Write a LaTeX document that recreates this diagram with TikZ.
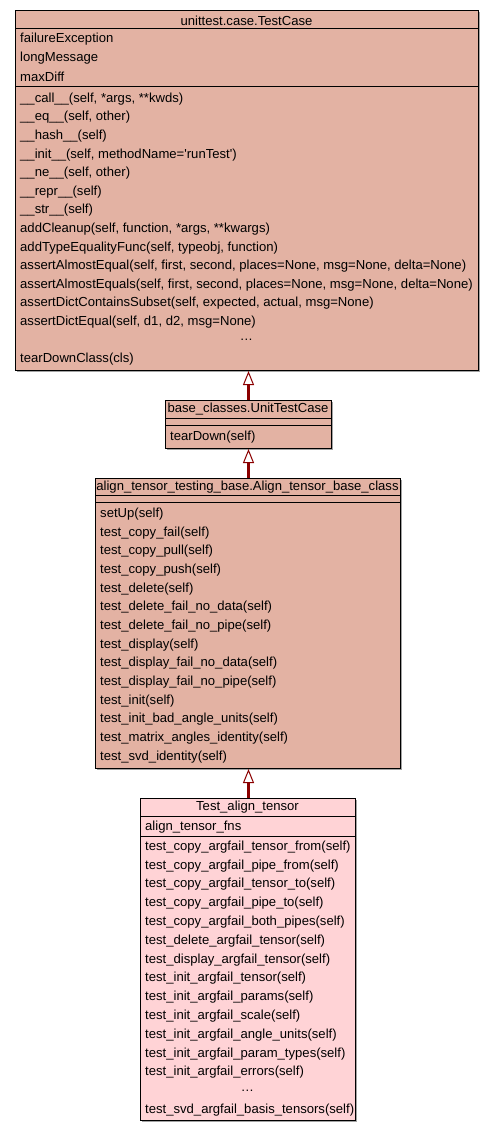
\documentclass[tikz,border=0pt]{standalone}
\usepackage{fontspec}
\setmainfont{Liberation Sans}
\usetikzlibrary{arrows.meta,positioning,calc,shadows}
\definecolor{basefill}{RGB}{227,178,163}
\definecolor{leaffill}{RGB}{255,211,214}
\definecolor{arrowred}{RGB}{139,0,0}

\begin{document}
\begin{tikzpicture}[x=1pt, y=-1pt,
    classbox/.style={draw=black, line width=1pt, fill=basefill, anchor=north west, inner sep=0pt,
        drop shadow={shadow xshift=1.5pt, shadow yshift=-1.5pt, fill=black!45, opacity=0.8}},
    member/.style={anchor=west, inner sep=0pt, yshift=-1pt, font=\fontsize{13.1}{15}\selectfont},
    title/.style={member, anchor=center},
    sep/.style={line width=1pt},
    inherit/.style={draw=arrowred, line width=2.4pt,
        -{Triangle[open, fill=white, line width=1pt, length=14pt, width=11pt]}}
]
\useasboundingbox (0,0) rectangle (493,1131);

% unittest.case.TestCase
\node[classbox, minimum width=463pt, minimum height=360pt] (testcase) at (15,10) {};
\node[title] (tc-title) at (246.5,19.5) {unittest.case.TestCase};
\draw[sep] ([yshift=-19pt]testcase.north west) -- ([yshift=-19pt]testcase.north east);
\foreach \a [count=\i from 0] in {failureException, longMessage, maxDiff}
    \node[member] (tc-a\i) at (20,{38+19*\i}) {\a};
\draw[sep] ([yshift=-77pt]testcase.north west) -- ([yshift=-77pt]testcase.north east);
\foreach \m [count=\i from 0] in {
    {\_\_call\_\_(self, *args, **kwds)},
    {\_\_eq\_\_(self, other)},
    {\_\_hash\_\_(self)},
    {\_\_init\_\_(self, methodName=\textquotesingle runTest\textquotesingle)},
    {\_\_ne\_\_(self, other)},
    {\_\_repr\_\_(self)},
    {\_\_str\_\_(self)},
    {addCleanup(self, function, *args, **kwargs)},
    {addTypeEqualityFunc(self, typeobj, function)},
    {assertAlmostEqual(self, first, second, places=None, msg=None, delta=None)},
    {assertAlmostEquals(self, first, second, places=None, msg=None, delta=None)},
    {assertDictContainsSubset(self, expected, actual, msg=None)},
    {assertDictEqual(self, d1, d2, msg=None)}}
    \node[member] (tc-m\i) at (20,{98+18.6*\i}) {\m};
\node[title] (tc-dots) at (246.5,339) {\dots};
\node[member] (tc-last) at (20,358) {tearDownClass(cls)};

% base_classes.UnitTestCase
\node[classbox, minimum width=166pt, minimum height=48pt] (unittest) at (165,400) {};
\node[title] (ut-title) at (248,408.5) {base\_classes.UnitTestCase};
\draw[sep] ([yshift=-18pt]unittest.north west) -- ([yshift=-18pt]unittest.north east);
\draw[sep] ([yshift=-25pt]unittest.north west) -- ([yshift=-25pt]unittest.north east);
\node[member] (ut-m0) at (170,436) {tearDown(self)};

% align_tensor_testing_base.Align_tensor_base_class
\node[classbox, minimum width=305pt, minimum height=290pt] (basecls) at (95,478) {};
\node[title] (bc-title) at (247.5,486.5) {align\_tensor\_testing\_base.Align\_tensor\_base\_class};
\draw[sep] ([yshift=-17pt]basecls.north west) -- ([yshift=-17pt]basecls.north east);
\draw[sep] ([yshift=-24pt]basecls.north west) -- ([yshift=-24pt]basecls.north east);
\foreach \m [count=\i from 0] in {
    setUp(self),
    test\_copy\_fail(self),
    test\_copy\_pull(self),
    test\_copy\_push(self),
    test\_delete(self),
    test\_delete\_fail\_no\_data(self),
    test\_delete\_fail\_no\_pipe(self),
    test\_display(self),
    test\_display\_fail\_no\_data(self),
    test\_display\_fail\_no\_pipe(self),
    test\_init(self),
    test\_init\_bad\_angle\_units(self),
    test\_matrix\_angles\_identity(self),
    test\_svd\_identity(self)}
    \node[member] (bc-m\i) at (100,{513+18.69*\i}) {\m};

% Test_align_tensor
\node[classbox, fill=leaffill, minimum width=215pt, minimum height=322pt] (testalign) at (140,798) {};
\node[title] (ta-title) at (247.5,806.5) {Test\_align\_tensor};
\draw[sep] ([yshift=-18pt]testalign.north west) -- ([yshift=-18pt]testalign.north east);
\node[member] (ta-a0) at (145,826) {align\_tensor\_fns};
\draw[sep] ([yshift=-38pt]testalign.north west) -- ([yshift=-38pt]testalign.north east);
\foreach \m [count=\i from 0] in {
    test\_copy\_argfail\_tensor\_from(self),
    test\_copy\_argfail\_pipe\_from(self),
    test\_copy\_argfail\_tensor\_to(self),
    test\_copy\_argfail\_pipe\_to(self),
    test\_copy\_argfail\_both\_pipes(self),
    test\_delete\_argfail\_tensor(self),
    test\_display\_argfail\_tensor(self),
    test\_init\_argfail\_tensor(self),
    test\_init\_argfail\_params(self),
    test\_init\_argfail\_scale(self),
    test\_init\_argfail\_angle\_units(self),
    test\_init\_argfail\_param\_types(self),
    test\_init\_argfail\_errors(self)}
    \node[member] (ta-m\i) at (145,{846+18.79*\i}) {\m};
\node[title] (ta-dots) at (247.5,1090) {\dots};
\node[member] (ta-last) at (145,1109) {test\_svd\_argfail\_basis\_tensors(self)};

% inheritance
\draw[inherit] (unittest.north) -- (unittest.north |- testcase.south);
\draw[inherit] (basecls.north -| unittest.north) -- (unittest.south);
\draw[inherit] (testalign.north -| unittest.north) -- (basecls.south -| unittest.north);
\end{tikzpicture}
\end{document}
